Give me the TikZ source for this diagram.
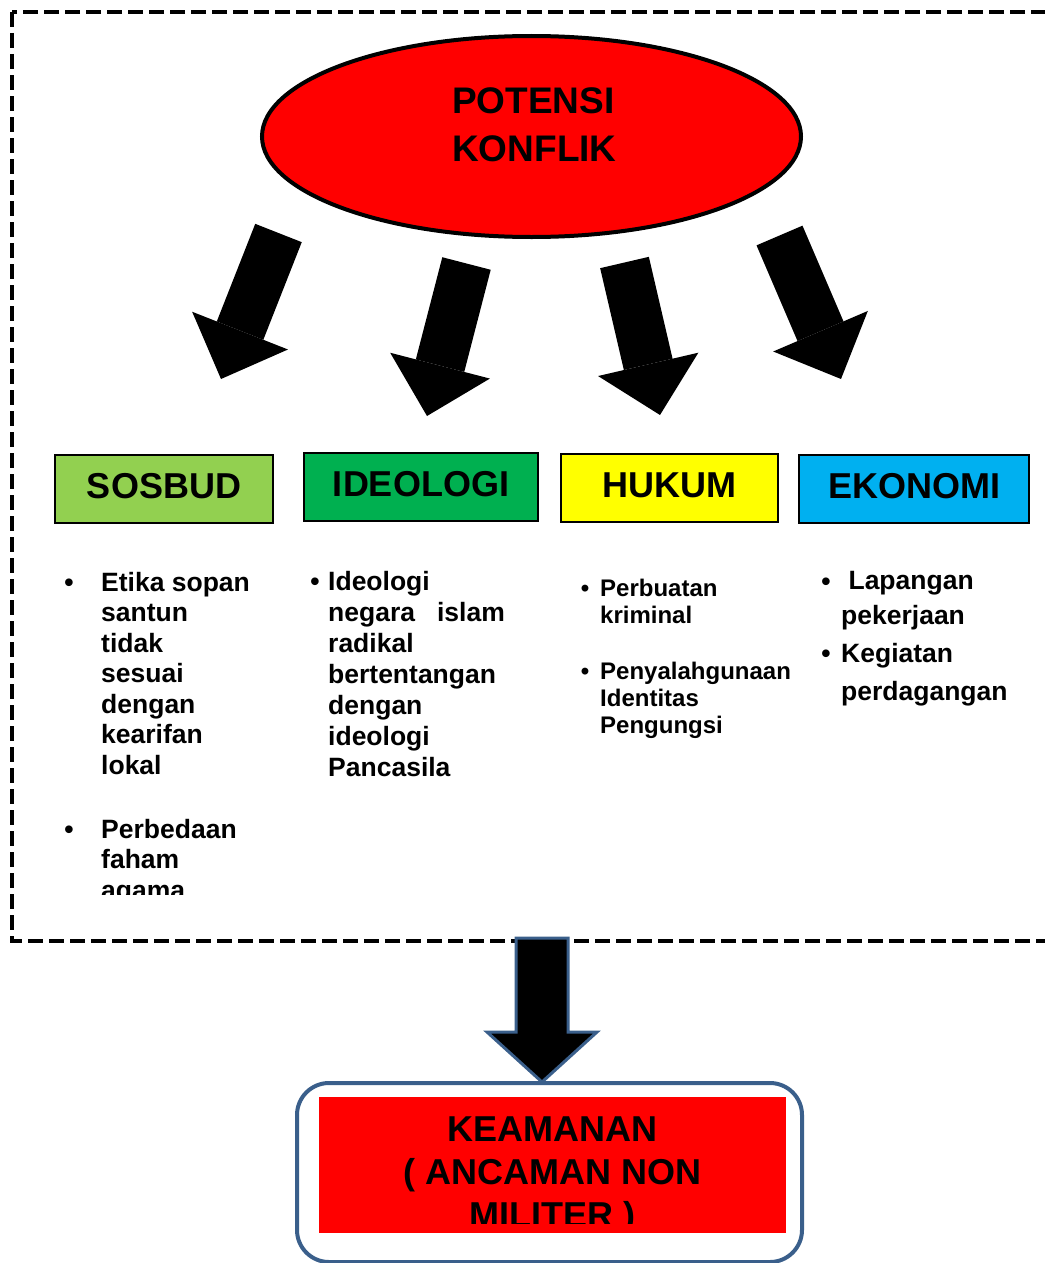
\documentclass[tikz,border=0pt]{standalone}
\usepackage{fontspec}
\setmainfont{Liberation Sans}
\usetikzlibrary{shapes.geometric,arrows.meta,calc}

\definecolor{sosbudgreen}{HTML}{92D050}
\definecolor{ideogreen}{HTML}{00B050}
\definecolor{hukumyellow}{HTML}{FFFF00}
\definecolor{ekoblue}{HTML}{00B0F0}
\definecolor{edgeblue}{HTML}{3A5F8B}

\begin{document}
\begin{tikzpicture}[x=1pt, y=-1pt,
    catbox/.style={rectangle, draw, line width=1.2pt, minimum height=68pt, inner sep=0pt, text height=26pt, text depth=8pt, font=\fontsize{36}{40}\selectfont\bfseries},
    listtxt/.style={anchor=north west, inner sep=0pt, align=left, font=\fontsize{26.5}{30.5}\selectfont\bfseries},
    bul/.style={anchor=base, inner sep=0pt, font=\fontsize{26.5}{30.5}\selectfont\bfseries},
    fat/.style={line width=50pt, -{Triangle[width=103pt, length=52pt, line width=0pt]}},
    outerframe/.style={draw, line width=4pt, dash pattern=on 15pt off 6pt}]

    \useasboundingbox (0,0) rectangle (1044,1263);

    % Dashed frame round the conflict sources
    \draw[outerframe] (12,12) rectangle (1070,941);

    % Top ellipse
    \node (konflik) [ellipse, draw, line width=4pt, fill=red, minimum width=539pt, minimum height=201pt, inner sep=0pt] at (531.5,136.5) {};
    \node (konfliktxt) [anchor=north west, inner sep=0pt, align=left, font=\fontsize{37}{48}\selectfont\bfseries] at (452,87) {POTENSI\\KONFLIK};

    % Block arrows to the four fields
    \coordinate (a1s) at (278.5,233);
    \coordinate (a1e) at (221,379);
    \coordinate (a2s) at (466.5,263.5);
    \coordinate (a2e) at (427,416);
    \coordinate (a3s) at (624.5,262.5);
    \coordinate (a3e) at (660,415);
    \coordinate (a4s) at (779.5,235.5);
    \coordinate (a4e) at (841,379);
    \draw[fat] (a1s) -- (a1e);
    \draw[fat] (a2s) -- (a2e);
    \draw[fat] (a3s) -- (a3e);
    \draw[fat] (a4s) -- (a4e);

    % Field boxes
    \node (sosbud) [catbox, fill=sosbudgreen, minimum width=218pt] at (164,489) {SOSBUD};
    \node (ideologi) [catbox, fill=ideogreen, minimum width=234pt] at (421,487) {IDEOLOGI};
    \node (hukum) [catbox, fill=hukumyellow, minimum width=217pt] at (669.5,488) {HUKUM};
    \node (ekonomi) [catbox, fill=ekoblue, minimum width=230pt] at (914,489) {EKONOMI};

    % Sosbud list
    \node (sb1dot) [bul] at (69,591) {\textbullet};
    \node (sb1) [listtxt] at (101,572) {Etika sopan\\santun\\tidak\\sesuai\\dengan\\kearifan\\lokal};
    \node (sb2dot) [bul] at (69,838) {\textbullet};
    \begin{scope}
        \clip (40,800) rectangle (300,894);
        \node (sb2) [listtxt] at (101,819) {Perbedaan\\faham\\agama};
    \end{scope}

    % Ideologi list
    \node (id1dot) [bul] at (315,590) {\textbullet};
    \node (id1) [listtxt, font=\fontsize{26.5}{31}\selectfont\bfseries] at (328,571) {Ideologi\\negara\hspace{22pt}islam\\radikal\\bertentangan\\dengan\\ideologi\\Pancasila};

    % Hukum list
    \node (hk1dot) [bul, font=\fontsize{24}{27}\selectfont\bfseries] at (585,596) {\textbullet};
    \node (hk1) [listtxt, font=\fontsize{24}{26.5}\selectfont\bfseries] at (600,579) {Perbuatan\\kriminal};
    \node (hk2dot) [bul, font=\fontsize{24}{27}\selectfont\bfseries] at (585,679) {\textbullet};
    \node (hk2) [listtxt, font=\fontsize{24}{27}\selectfont\bfseries] at (600,662) {Penyalahgunaan\\Identitas\\Pengungsi};

    % Ekonomi list
    \node (ek1dot) [bul] at (826,590) {\textbullet};
    \node (ek1) [listtxt, font=\fontsize{26.5}{35}\selectfont\bfseries] at (841,571) {\ Lapangan\\pekerjaan};
    \node (ek2dot) [bul] at (826,662) {\textbullet};
    \node (ek2) [listtxt, font=\fontsize{26.5}{38}\selectfont\bfseries] at (841,643) {Kegiatan\\perdagangan};

    % Arrow down to security
    \coordinate (dtop) at (542,938);
    \coordinate (dtip) at (542,1082);
    \draw[fill=black, draw=edgeblue, line width=3pt, line join=miter]
        ($(dtop)+(-26,0)$) -- ($(dtop)+(26,0)$) -- ($(dtip)+(26,-50)$) -- ($(dtip)+(55,-50)$)
        -- (dtip) -- ($(dtip)+(-55,-50)$) -- ($(dtip)+(-26,-50)$) -- cycle;

    % Security box
    \node (keamananbox) [rectangle, draw=edgeblue, line width=4pt, rounded corners=32pt, minimum width=505pt, minimum height=179pt] at (549.5,1172.5) {};
    \node (keamanan) [rectangle, fill=red, minimum width=467pt, minimum height=136pt] at (552.5,1165) {};
    \begin{scope}
        \clip (319,1097) rectangle (786,1223);
        \node (keamanantxt) [anchor=north, inner sep=0pt, align=center, font=\fontsize{36}{43}\selectfont\bfseries] at (552.5,1117) {KEAMANAN\\( ANCAMAN NON\\MILITER )};
    \end{scope}

\end{tikzpicture}
\end{document}
